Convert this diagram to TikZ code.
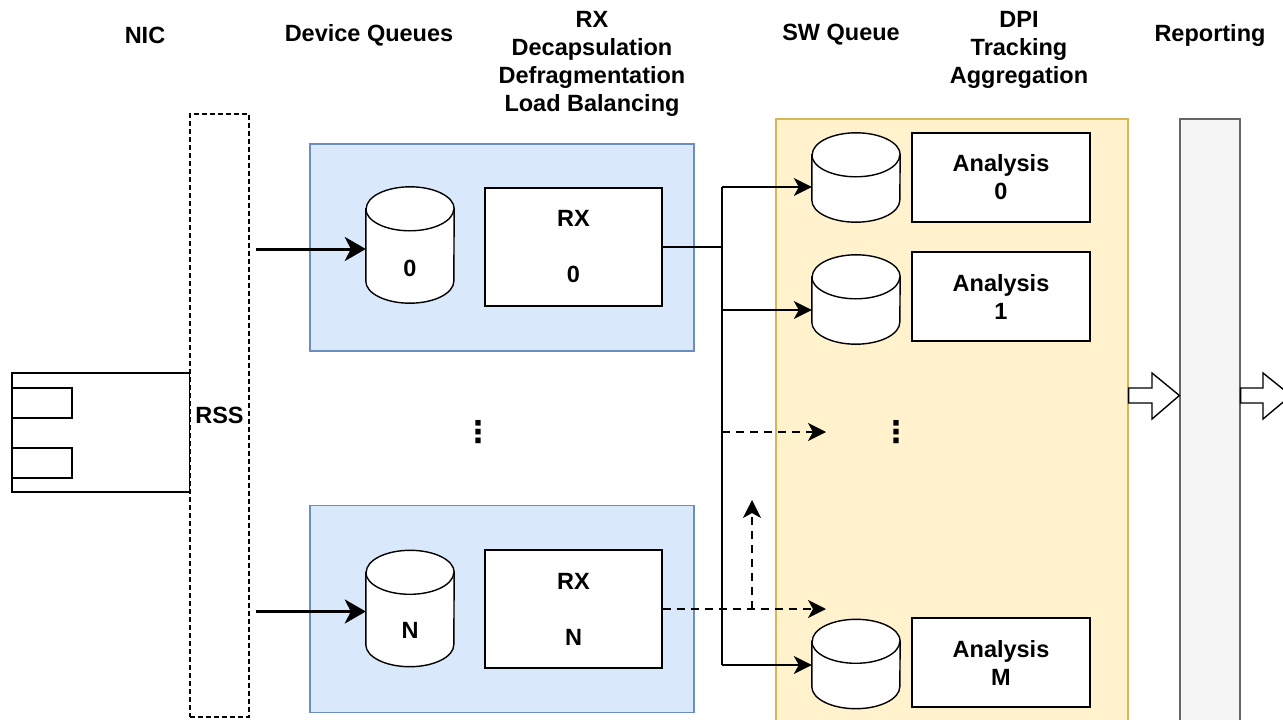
\documentclass[tikz,border=0pt]{standalone}
\usepackage{fontspec}
\setmainfont{Liberation Sans}
\newfontfamily\dejavu{DejaVu Sans}
\usetikzlibrary{arrows.meta,calc}
\definecolor{blueF}{HTML}{DAE8FC}
\definecolor{blueS}{HTML}{6C8EBF}
\definecolor{orF}{HTML}{FFF2CC}
\definecolor{orS}{HTML}{D6B656}
\definecolor{grF}{HTML}{F5F5F5}
\definecolor{grS}{HTML}{666666}
\begin{document}
\begin{tikzpicture}[x=1pt,y=-1pt,
  lbl/.style={font=\fontsize{23.5}{28}\selectfont\bfseries, align=center, inner sep=0pt},
  box/.style={draw, line width=1.4pt, fill=white, lbl},
  plain/.style={draw, line width=1.4pt, inner sep=0pt},
  conn/.style={line width=1.4pt},
  arr/.style={conn, -{Stealth[length=18pt,width=18pt,inset=5pt]}},
  darr/.style={arr, dash pattern=on 8pt off 6pt},
  tarr/.style={line width=3pt, -{Stealth[length=21pt,width=24pt,inset=6pt]}},
  cylbox/.style={minimum width=88pt, inner sep=0pt},
  group/.style={draw, line width=1.2pt, inner sep=0pt},
  dotsn/.style={font=\dejavu\bfseries\fontsize{30}{30}\selectfont, inner sep=0pt},
  hollow/.style={draw, line width=1.4pt, fill=white}
]
\useasboundingbox (0,0) rectangle (1283,720);

% headers
\node[lbl] (hnic) at (145,35) {NIC};
\node[lbl] (hdq) at (369,35) {Device Queues};
\node[lbl] (hrx) at (592,63.5) {RX\\Decapsulation\\Defragmentation\\Load Balancing};
\node[lbl] (hsw) at (841,35) {SW Queue};
\node[lbl] (hdpi) at (1019,49.5) {DPI\\Tracking\\Aggregation};
\node[lbl] (hrep) at (1210,35) {Reporting};

% NIC
\node[plain, minimum width=178pt, minimum height=119pt] (nic) at (101,432.5) {};
\node[plain, minimum width=60pt, minimum height=30pt] (nic1) at (42,403) {};
\node[plain, minimum width=60pt, minimum height=30pt] (nic2) at (42,463) {};

% RSS
\node[draw, line width=1.4pt, dash pattern=on 5pt off 3pt, fill=white, minimum width=59pt, minimum height=603pt, lbl] (rss) at (219.5,415.5) {RSS};

% device queue groups
\node[group, draw=blueS, fill=blueF, minimum width=384pt, minimum height=207pt] (dq0) at (502,247.5) {};
\node[group, draw=blueS, fill=blueF, minimum width=384pt, minimum height=207pt] (dqN) at (502,609) {};

% SW queue group and reporting
\node[group, draw=orS, fill=orF, minimum width=352pt, minimum height=605pt] (sw) at (952,421.5) {};
\node[group, draw=grS, fill=grF, minimum width=60pt, minimum height=605pt] (rep) at (1210,421.5) {};

% cylinders (placeholders)
\node[cylbox, minimum height=116pt] (c0) at (410,245) {};
\node[cylbox, minimum height=116pt] (cN) at (410,608.5) {};
\node[cylbox, minimum height=89pt] (s0) at (856,177.5) {};
\node[cylbox, minimum height=89pt] (s1) at (856,299.5) {};
\node[cylbox, minimum height=89pt] (sM) at (856,664) {};
\foreach \n in {c0,cN,s0,s1,sM}{
  \draw[line width=1.4pt, fill=white] ([yshift=-22pt]\n.north west) -- ([yshift=22pt]\n.south west)
    arc[start angle=180, end angle=360, x radius=44pt, y radius=22pt]
    -- ([yshift=-22pt]\n.north east)
    arc[start angle=0, end angle=180, x radius=44pt, y radius=22pt] -- cycle;
  \draw[line width=1.4pt] ([yshift=-22pt]\n.north west)
    arc[start angle=180, end angle=360, x radius=44pt, y radius=22pt];
}
\node[lbl] (c0t) at ([yshift=-23pt]c0.center) {0};
\node[lbl] (cNt) at ([yshift=-22pt]cN.center) {N};

% RX boxes
\node[box, minimum width=177pt, minimum height=118pt] (rx0) at (573.5,247) {RX\\[28pt]0};
\node[box, minimum width=177pt, minimum height=118pt] (rxN) at (573.5,609) {RX\\[28pt]N};

% analysis boxes
\node[box, minimum width=178pt, minimum height=89pt] (a0) at (1001,177.5) {Analysis\\0};
\node[box, minimum width=178pt, minimum height=89pt] (a1) at (1001,296.5) {Analysis\\1};
\node[box, minimum width=178pt, minimum height=89pt] (aM) at (1001,662.5) {Analysis\\M};

% dots
\node[dotsn] (dots1) at (478,432) {⋮};
\node[dotsn] (dots2) at (896,432) {⋮};

% input arrows
\coordinate (c0in) at ([yshift=-4pt]c0.west);
\coordinate (cNin) at ([yshift=-3pt]cN.west);
\draw[tarr] ([xshift=6pt]rss.east |- c0in) -- (c0in);
\draw[tarr] ([xshift=6pt]rss.east |- cNin) -- (cNin);

% trunk
\coordinate (T) at (722,0);
\coordinate (s0in) at ([yshift=-9.5pt]s0.west);
\coordinate (s1in) at ([yshift=-10.5pt]s1.west);
\coordinate (sMin) at ([yshift=-1pt]sM.west);
\draw[conn] (rx0.east) -- (T |- rx0.east);
\draw[conn] (T |- s0in) -- (T |- sMin);
\draw[arr] (T |- s0in) -- (s0in);
\draw[arr] (T |- s1in) -- (s1in);
\draw[arr] (T |- sMin) -- (sMin);

% dashed
\coordinate (d1) at (826,432);
\coordinate (up) at (752,500);
\draw[darr] (T |- d1) -- (d1);
\draw[darr] (rxN.east) -- (d1 |- rxN.east);
\draw[darr] (up |- rxN.east) -- (up);

% hollow arrows
\draw[hollow] (sw.east |- 0,388) -- (1152,388) -- (1152,373) -- (rep.west |- 0,395.5) -- (1152,419) -- (1152,403) -- (sw.east |- 0,403) -- cycle;
\draw[hollow] (rep.east |- 0,388) -- (1263,388) -- (1263,373) -- (1291,395.5) -- (1263,419) -- (1263,403) -- (rep.east |- 0,403) -- cycle;
\end{tikzpicture}
\end{document}
